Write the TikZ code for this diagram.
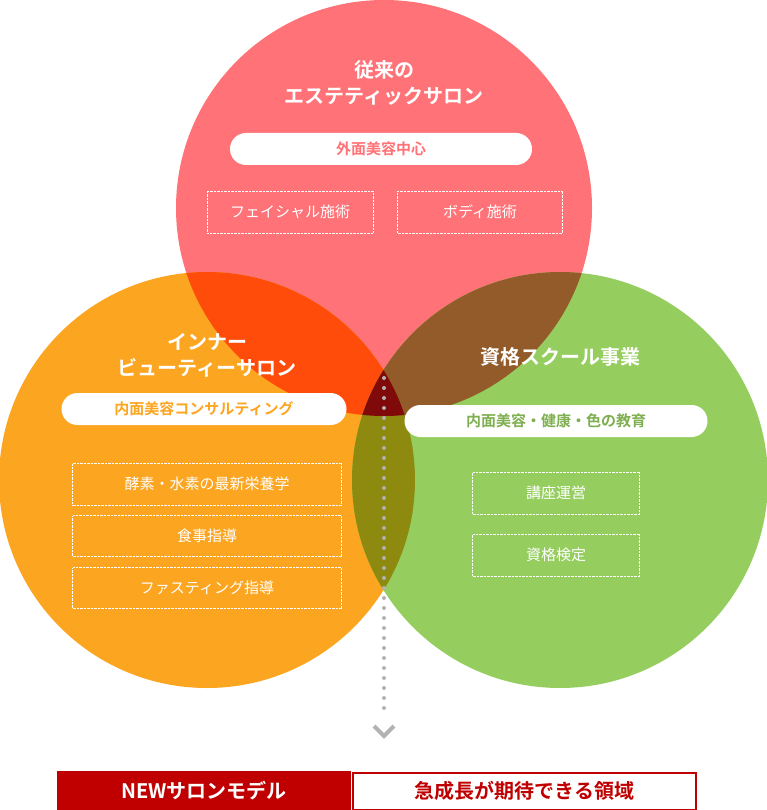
\documentclass[tikz,border=0pt]{standalone}
\usepackage{fontspec}
\setmainfont{Noto Sans CJK JP}
\newfontfamily\jpb{Noto Sans CJK JP Bold}
\definecolor{cred}{HTML}{FF7378}
\definecolor{corg}{HTML}{FCA520}
\definecolor{cgrn}{HTML}{95CE5E}
\definecolor{cro}{HTML}{FF4C0A}
\definecolor{crg}{HTML}{935B2A}
\definecolor{cog}{HTML}{8E890F}
\definecolor{call}{HTML}{800A0A}
\definecolor{dred}{HTML}{C00000}
\begin{document}
\begin{tikzpicture}[x=1pt,y=-1pt,
 title/.style={text=white,font=\jpb\fontsize{20}{26}\selectfont,align=center},
 pill/.style={fill=white,rounded corners=16pt,font=\jpb\fontsize{15}{18}\selectfont,inner sep=0pt},
 dbox/.style={draw=white,densely dotted,text=white,font=\fontsize{15}{18}\selectfont,inner sep=0pt}]
\useasboundingbox (0,0) rectangle (767,810);
\def\R{208}
\fill[cred] (384,208) circle (\R);
\fill[corg] (207,480) circle (\R);
\fill[cgrn] (560,480) circle (\R);
\begin{scope}\clip (384,208) circle (\R); \fill[cro] (207,480) circle (\R); \fill[crg] (560,480) circle (\R);\end{scope}
\begin{scope}\clip (207,480) circle (\R); \fill[cog] (560,480) circle (\R);
 \clip (384,208) circle (\R); \fill[call] (560,480) circle (\R);\end{scope}
% top
\node[title] (t1) at (384,83) {従来の\\エステティックサロン};
\node[pill,minimum width=302pt,minimum height=32pt,text=cred] (p1) at (381,149) {外面美容中心};
\node[dbox,minimum width=166pt,minimum height=42pt] (b11) at (290,212) {フェイシャル施術};
\node[dbox,minimum width=165pt,minimum height=42pt] (b12) at (480,212) {ボディ施術};
% left
\node[title] (t2) at (207,355) {インナー\\ビューティーサロン};
\node[pill,minimum width=285pt,minimum height=32pt,text=corg] (p2) at (204,409) {内面美容コンサルティング};
\node[dbox,minimum width=269pt,minimum height=42pt] (b21) at (207,484) {酵素・水素の最新栄養学};
\node[dbox,minimum width=269pt,minimum height=41pt] (b22) at (207,536) {食事指導};
\node[dbox,minimum width=269pt,minimum height=41pt] (b23) at (207,588) {ファスティング指導};
% right
\node[title] (t3) at (560,357) {資格スクール事業};
\node[pill,minimum width=303pt,minimum height=32pt,text=cgrn!85!black] (p3) at (556,421) {内面美容・健康・色の教育};
\node[dbox,minimum width=167pt,minimum height=42pt] (b31) at (556,493) {講座運営};
\node[dbox,minimum width=167pt,minimum height=42pt] (b32) at (556,555) {資格検定};
% dots + chevron
\coordinate (d0) at (384,378);
\coordinate (d1) at (384,715);
\draw[gray!60,line width=4pt,line cap=round,dash pattern=on 0pt off 10pt] (d0) -- (d1);
\draw[gray!60,line width=4pt] (374,726) -- (384,736) -- (394,726);
% bottom
\node[fill=dred,minimum width=294pt,minimum height=39pt,anchor=north west,inner sep=0pt,text=white,font=\jpb\fontsize{20}{24}\selectfont] (n1) at (57,771) {NEWサロンモデル};
\node[draw=dred,line width=1.5pt,fill=white,minimum width=343pt,minimum height=37pt,anchor=north west,inner sep=0pt,text=dred,font=\jpb\fontsize{20}{24}\selectfont] (n2) at (352,772) {急成長が期待できる領域};
\end{tikzpicture}
\end{document}
